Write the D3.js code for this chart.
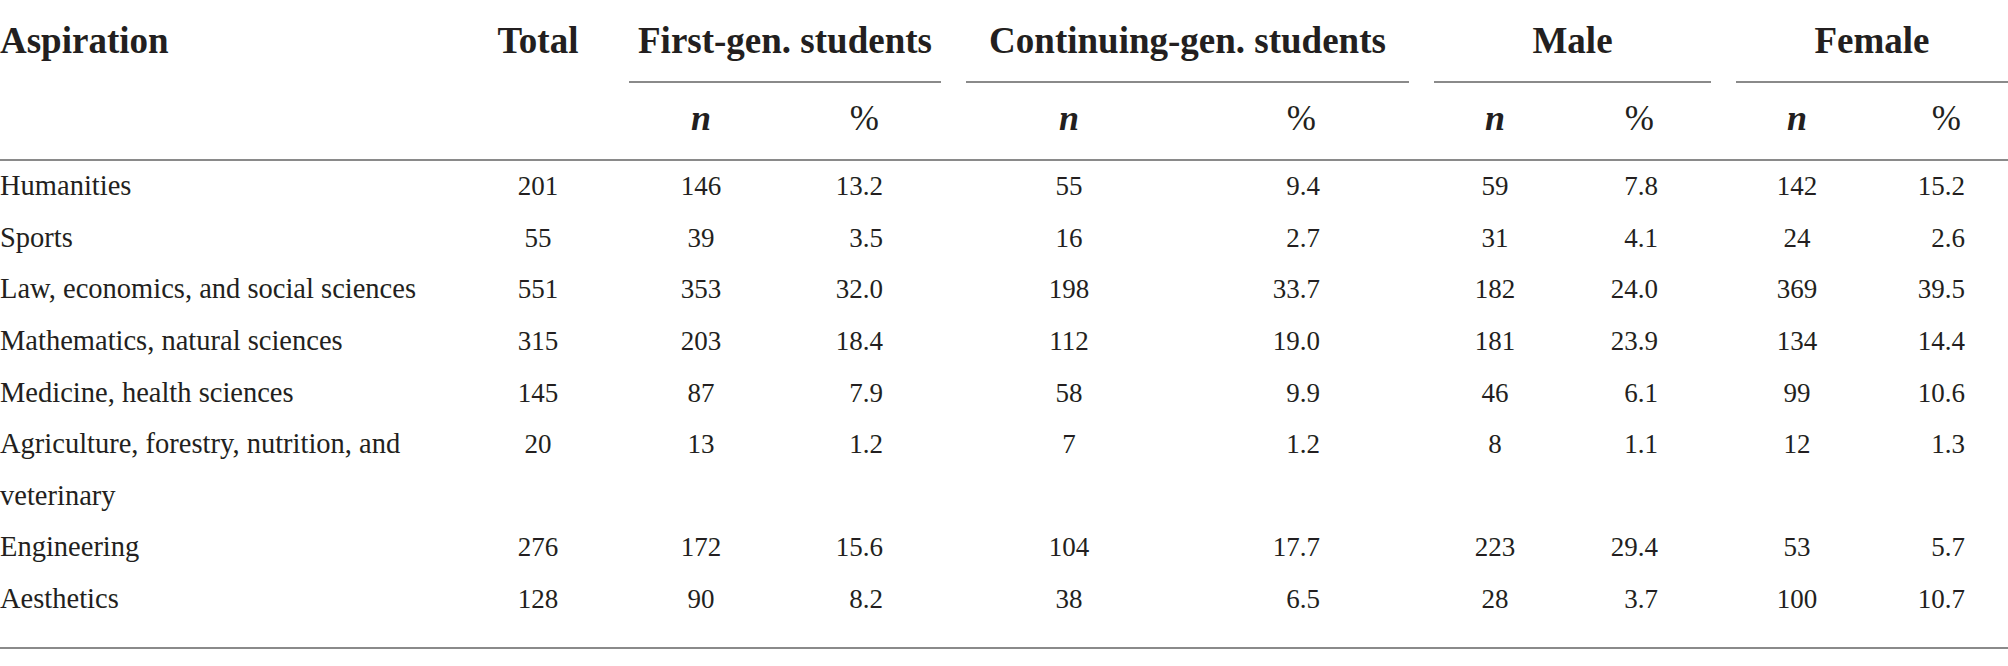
<!DOCTYPE html>
<html>
<head>
<meta charset="utf-8">
<script src="https://cdn.jsdelivr.net/npm/d3@7"></script>
<style>
  html, body { margin: 0; padding: 0; background: #fff; }
  svg { display: block; }
  text { font-family: "Liberation Serif", "DejaVu Serif", serif; fill: #231f20; }
  .head { font-weight: bold; font-size: 37px; }
  .sub-n { font-weight: bold; font-style: italic; font-size: 36px; }
  .sub-pct { font-size: 35px; }
  .label { font-size: 28.5px; }
  .num { font-size: 27px; }
  .rule { stroke: #8a8a8a; stroke-width: 2; }
</style>
</head>
<body>
<div id="table"></div>
<script>
// ---------------------------------------------------------------- data
const categories = [
  "Humanities",
  "Sports",
  "Law, economics, and social sciences",
  "Mathematics, natural sciences",
  "Medicine, health sciences",
  "Agriculture, forestry, nutrition, and veterinary",
  "Engineering",
  "Aesthetics"
];
const total     = [201, 55, 551, 315, 145, 20, 276, 128];
const firstN    = [146, 39, 353, 203, 87, 13, 172, 90];
const firstPct  = [13.2, 3.5, 32.0, 18.4, 7.9, 1.2, 15.6, 8.2];
const contN     = [55, 16, 198, 112, 58, 7, 104, 38];
const contPct   = [9.4, 2.7, 33.7, 19.0, 9.9, 1.2, 17.7, 6.5];
const maleN     = [59, 31, 182, 181, 46, 8, 223, 28];
const malePct   = [7.8, 4.1, 24.0, 23.9, 6.1, 1.1, 29.4, 3.7];
const femaleN   = [142, 24, 369, 134, 99, 12, 53, 100];
const femalePct = [15.2, 2.6, 39.5, 14.4, 10.6, 1.3, 5.7, 10.7];

const groups = ["First-gen. students", "Continuing-gen. students", "Male", "Female"];
const subHeads = ["n", "%"];

// ---------------------------------------------------------------- layout
const width = 2008, height = 666;
const fmtPct = d3.format(".1f");

const svg = d3.select("#table").append("svg")
  .attr("width", width)
  .attr("height", height);

// group spans (left, right of the underline) and column anchors
const groupSpan = [[629, 941], [966, 1409], [1434, 1711], [1736, 2008]];
const nCenter = [701, 1069, 1495, 1797];
const pctRight = [883, 1320, 1658, 1965];
const totalCenter = 538;

const series = [
  [firstN, firstPct],
  [contN, contPct],
  [maleN, malePct],
  [femaleN, femalePct]
];

// header
svg.append("text").attr("class", "head").attr("x", 0).attr("y", 53).text("Aspiration");
svg.append("text").attr("class", "head").attr("x", totalCenter).attr("y", 53)
  .attr("text-anchor", "middle").text("Total");

svg.selectAll(".group-head")
  .data(groups)
  .enter()
  .append("text")
  .attr("class", "head group-head")
  .attr("x", (d, i) => (groupSpan[i][0] + groupSpan[i][1]) / 2)
  .attr("y", 53)
  .attr("text-anchor", "middle")
  .text(d => d);

svg.selectAll(".group-rule")
  .data(groups)
  .enter()
  .append("line")
  .attr("class", "rule group-rule")
  .attr("x1", (d, i) => groupSpan[i][0])
  .attr("x2", (d, i) => groupSpan[i][1])
  .attr("y1", 82)
  .attr("y2", 82);

groups.forEach((g, i) => {
  svg.append("text").attr("class", "sub-n")
    .attr("x", nCenter[i]).attr("y", 130)
    .attr("text-anchor", "middle").text(subHeads[0]);
  svg.append("text").attr("class", "sub-pct")
    .attr("x", pctRight[i] - 4).attr("y", 130)
    .attr("text-anchor", "end").text(subHeads[1]);
});

// rules
svg.append("line").attr("class", "rule").attr("x1", 0).attr("x2", width).attr("y1", 160).attr("y2", 160);
svg.append("line").attr("class", "rule").attr("x1", 0).attr("x2", width).attr("y1", 648).attr("y2", 648);

// ---------------------------------------------------------------- body
// wrap category labels first, then place rows by their line counts
const maxLabel = 430;
const labels = svg.selectAll(".label")
  .data(categories)
  .enter()
  .append("text")
  .attr("class", "label");

const lineCounts = [];
labels.each(function (d) {
  const el = d3.select(this);
  const words = d.split(" ");
  let line = [];
  let tspan = el.append("tspan").attr("x", 0).attr("dy", 0);
  let count = 1;
  words.forEach(w => {
    line.push(w);
    tspan.text(line.join(" "));
    if (tspan.node().getComputedTextLength() > maxLabel && line.length > 1) {
      line.pop();
      tspan.text(line.join(" "));
      line = [w];
      tspan = el.append("tspan").attr("x", 0).attr("dy", 0).text(w);
      count++;
    }
  });
  lineCounts.push(count);
});

const rowLine = lineCounts.map((c, i) => d3.sum(lineCounts.slice(0, i)));
const nLines = d3.sum(lineCounts);
const yScale = d3.scaleLinear().domain([0, nLines - 1]).range([195, 608]);
const lineStep = yScale(1) - yScale(0);

labels.attr("y", (d, i) => yScale(rowLine[i]))
  .selectAll("tspan")
  .attr("dy", (d, j) => j === 0 ? 0 : lineStep);

svg.selectAll(".total")
  .data(total)
  .enter()
  .append("text")
  .attr("class", "num total")
  .attr("x", totalCenter)
  .attr("y", (d, i) => yScale(rowLine[i]))
  .attr("text-anchor", "middle")
  .text(d => d);

series.forEach(([ns, pcts], g) => {
  svg.selectAll(".n" + g)
    .data(ns)
    .enter()
    .append("text")
    .attr("class", "num n" + g)
    .attr("x", nCenter[g])
    .attr("y", (d, i) => yScale(rowLine[i]))
    .attr("text-anchor", "middle")
    .text(d => d);

  svg.selectAll(".p" + g)
    .data(pcts)
    .enter()
    .append("text")
    .attr("class", "num p" + g)
    .attr("x", pctRight[g])
    .attr("y", (d, i) => yScale(rowLine[i]))
    .attr("text-anchor", "end")
    .text(d => fmtPct(d));
});
</script>
</body>
</html>
